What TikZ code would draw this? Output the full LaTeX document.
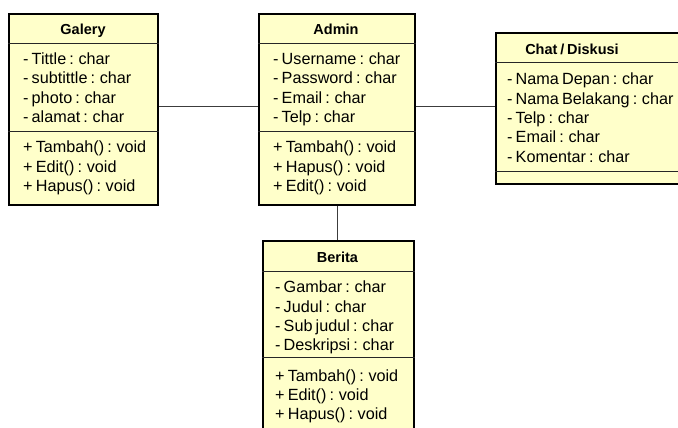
\documentclass[tikz,border=0pt]{standalone}
\usepackage{fontspec}
\setmainfont[WordSpace=0.7]{Liberation Sans}
\definecolor{classfill}{RGB}{255,255,202}
\definecolor{linkgray}{RGB}{60,60,60}
\tikzset{
  classbox/.style={draw=black, line width=1.6pt, fill=classfill, rectangle,
    inner sep=0pt, anchor=north west},
  divider/.style={draw=black!85, line width=0.9pt},
  member/.style={anchor=base west, inner sep=0pt, font=\fontsize{16.2}{18}\selectfont},
  classname/.style={anchor=base, inner sep=0pt, font=\fontsize{14.5}{18}\selectfont\bfseries},
  link/.style={draw=linkgray, line width=1pt},
}
\begin{document}
\begin{tikzpicture}[x=1pt,y=-1pt]
\useasboundingbox (0,0) rectangle (678,428);

% class Galery
\node[classbox, minimum width=149pt, minimum height=191pt] (galery) at (8,13) {};
\draw[divider] (galery.west |- 0,43) -- (galery.east |- 0,43);
\draw[divider] (galery.west |- 0,131) -- (galery.east |- 0,131);
\node[classname] (galeryT) at (83,34.5) {Galery};
\node[member] (galeryA1) at (23,64.5) {- Tittle : char};
\node[member] (galeryA2) at (23,84) {- subtittle : char};
\node[member] (galeryA3) at (23,103.5) {- photo : char};
\node[member] (galeryA4) at (23,122.5) {- alamat : char};
\node[member] (galeryM1) at (23,152.5) {+ Tambah() : void};
\node[member] (galeryM2) at (23,172) {+ Edit() : void};
\node[member] (galeryM3) at (23,191.5) {+ Hapus() : void};

% class Admin
\node[classbox, minimum width=156pt, minimum height=191pt] (admin) at (258,13) {};
\draw[divider] (admin.west |- 0,43) -- (admin.east |- 0,43);
\draw[divider] (admin.west |- 0,131) -- (admin.east |- 0,131);
\node[classname] (adminT) at (336,34.5) {Admin};
\node[member] (adminA1) at (273,64.5) {- Username : char};
\node[member] (adminA2) at (273,84) {- Password : char};
\node[member] (adminA3) at (273,103.5) {- Email : char};
\node[member] (adminA4) at (273,122.5) {- Telp : char};
\node[member] (adminM1) at (273,152.5) {+ Tambah() : void};
\node[member] (adminM2) at (273,172) {+ Hapus() : void};
\node[member] (adminM3) at (273,191.5) {+ Edit() : void};

% class Chat / Diskusi (runs past the right edge)
\node[classbox, minimum width=230pt, minimum height=151pt] (chat) at (495,32) {};
\draw[divider] (chat.west |- 0,62) -- (chat.east |- 0,62);
\draw[divider] (chat.west |- 0,171) -- (chat.east |- 0,171);
\node[classname] (chatT) at (572,54.5) {Chat / Diskusi};
\node[member] (chatA1) at (507,84.5) {- Nama Depan : char};
\node[member] (chatA2) at (507,104) {- Nama Belakang : char};
\node[member] (chatA3) at (507,123.5) {- Telp : char};
\node[member] (chatA4) at (507,142.5) {- Email : char};
\node[member] (chatA5) at (507,162) {- Komentar : char};

% class Berita (runs past the bottom edge)
\node[classbox, minimum width=151pt, minimum height=200pt] (berita) at (262,240) {};
\draw[divider] (berita.west |- 0,271) -- (berita.east |- 0,271);
\draw[divider] (berita.west |- 0,357) -- (berita.east |- 0,357);
\node[classname] (beritaT) at (337.5,262.5) {Berita};
\node[member] (beritaA1) at (275,292.5) {- Gambar : char};
\node[member] (beritaA2) at (275,312) {- Judul : char};
\node[member] (beritaA3) at (275,331.5) {- Sub judul : char};
\node[member] (beritaA4) at (275,350.5) {- Deskripsi : char};
\node[member] (beritaM1) at (275,381.5) {+ Tambah() : void};
\node[member] (beritaM2) at (275,400.5) {+ Edit() : void};
\node[member] (beritaM3) at (275,419) {+ Hapus() : void};

% associations
\coordinate (row) at (0,107);
\coordinate (col) at (337,0);
\draw[link] (galery.east |- row) -- (admin.west |- row);
\draw[link] (admin.east |- row) -- (chat.west |- row);
\draw[link] (admin.south -| col) -- (berita.north -| col);
\end{tikzpicture}
\end{document}
